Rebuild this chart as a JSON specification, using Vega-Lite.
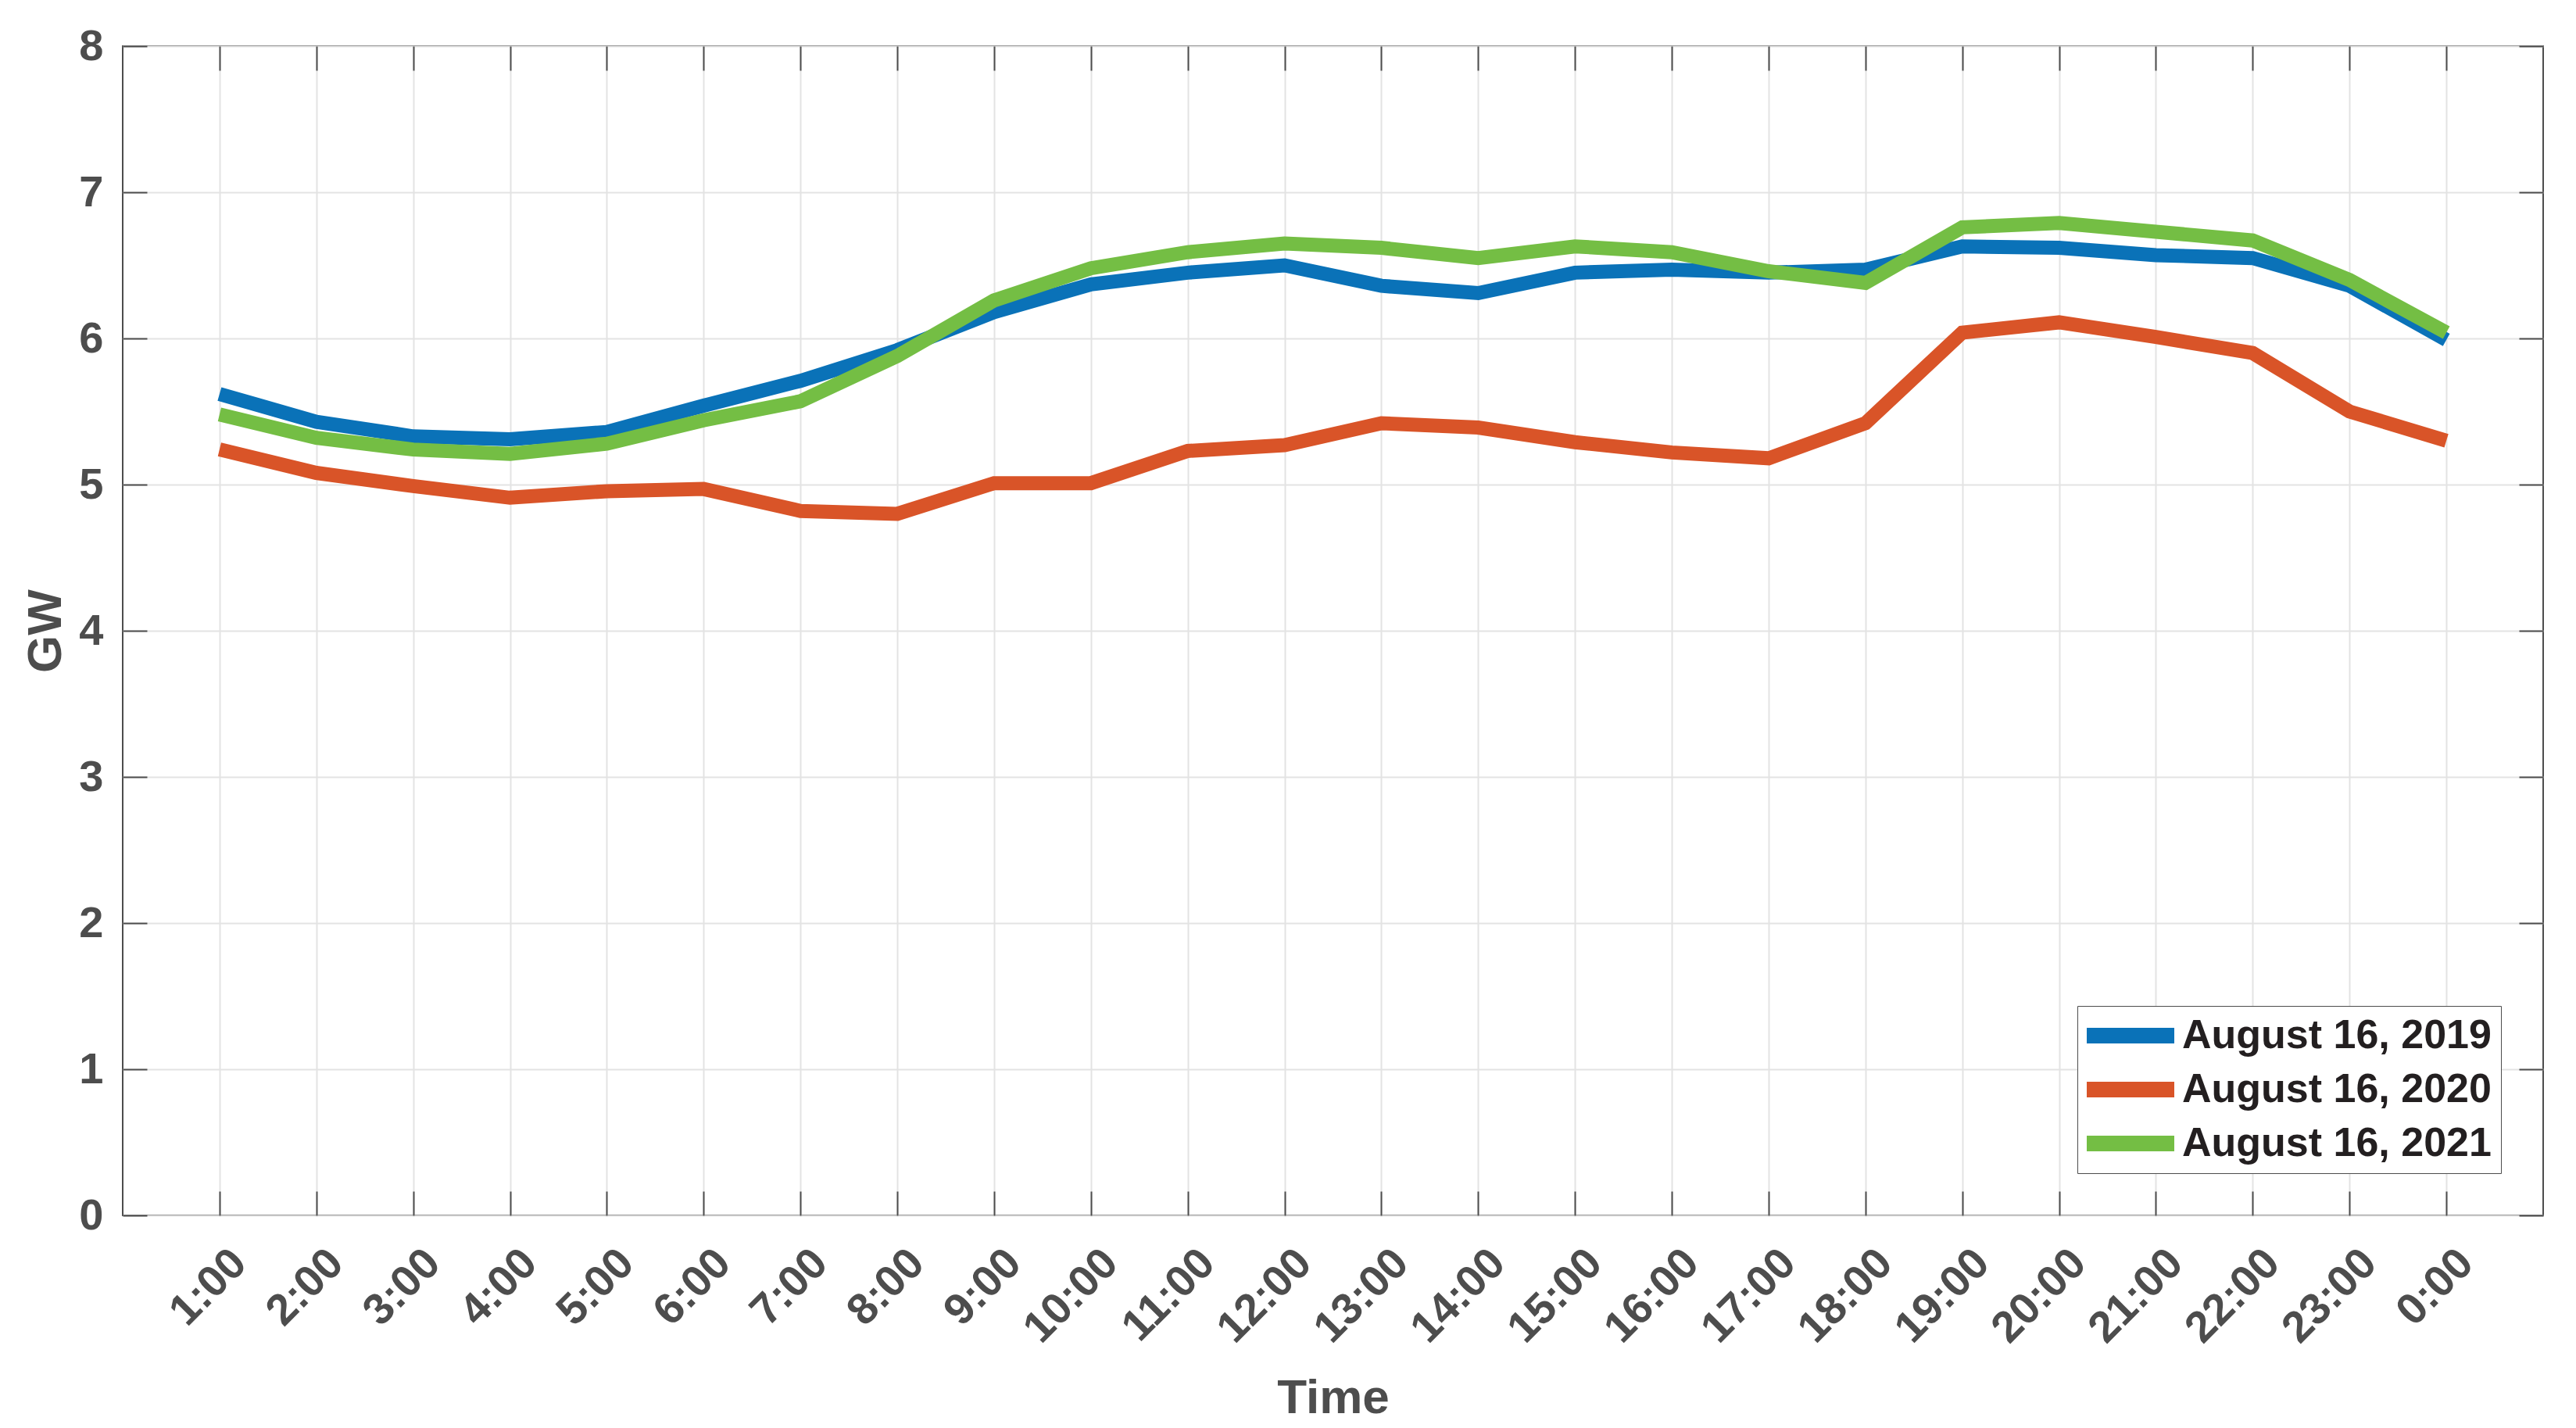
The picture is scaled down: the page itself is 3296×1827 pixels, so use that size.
{
  "$schema": "https://vega.github.io/schema/vega-lite/v6.json",
  "width": 3097,
  "height": 1496,
  "autosize": "none",
  "padding": {"left": 157, "top": 59, "right": 42, "bottom": 272},
  "background": "white",
  "config": {
    "font": "Liberation Sans",
    "view": {"stroke": "#4D4D4D", "strokeWidth": 2}
  },
  "data": {
    "values": [
      {"time": "1:00", "series": "August 16, 2019", "gw": 5.62},
      {"time": "2:00", "series": "August 16, 2019", "gw": 5.43},
      {"time": "3:00", "series": "August 16, 2019", "gw": 5.33},
      {"time": "4:00", "series": "August 16, 2019", "gw": 5.31},
      {"time": "5:00", "series": "August 16, 2019", "gw": 5.36},
      {"time": "6:00", "series": "August 16, 2019", "gw": 5.54},
      {"time": "7:00", "series": "August 16, 2019", "gw": 5.71},
      {"time": "8:00", "series": "August 16, 2019", "gw": 5.92},
      {"time": "9:00", "series": "August 16, 2019", "gw": 6.18},
      {"time": "10:00", "series": "August 16, 2019", "gw": 6.37},
      {"time": "11:00", "series": "August 16, 2019", "gw": 6.45},
      {"time": "12:00", "series": "August 16, 2019", "gw": 6.50},
      {"time": "13:00", "series": "August 16, 2019", "gw": 6.36},
      {"time": "14:00", "series": "August 16, 2019", "gw": 6.31},
      {"time": "15:00", "series": "August 16, 2019", "gw": 6.45},
      {"time": "16:00", "series": "August 16, 2019", "gw": 6.47},
      {"time": "17:00", "series": "August 16, 2019", "gw": 6.45},
      {"time": "18:00", "series": "August 16, 2019", "gw": 6.47},
      {"time": "19:00", "series": "August 16, 2019", "gw": 6.63},
      {"time": "20:00", "series": "August 16, 2019", "gw": 6.62},
      {"time": "21:00", "series": "August 16, 2019", "gw": 6.57},
      {"time": "22:00", "series": "August 16, 2019", "gw": 6.55},
      {"time": "23:00", "series": "August 16, 2019", "gw": 6.36},
      {"time": "0:00", "series": "August 16, 2019", "gw": 5.99},
      {"time": "1:00", "series": "August 16, 2020", "gw": 5.24},
      {"time": "2:00", "series": "August 16, 2020", "gw": 5.08},
      {"time": "3:00", "series": "August 16, 2020", "gw": 4.99},
      {"time": "4:00", "series": "August 16, 2020", "gw": 4.91},
      {"time": "5:00", "series": "August 16, 2020", "gw": 4.955},
      {"time": "6:00", "series": "August 16, 2020", "gw": 4.97},
      {"time": "7:00", "series": "August 16, 2020", "gw": 4.82},
      {"time": "8:00", "series": "August 16, 2020", "gw": 4.80},
      {"time": "9:00", "series": "August 16, 2020", "gw": 5.01},
      {"time": "10:00", "series": "August 16, 2020", "gw": 5.01},
      {"time": "11:00", "series": "August 16, 2020", "gw": 5.23},
      {"time": "12:00", "series": "August 16, 2020", "gw": 5.27},
      {"time": "13:00", "series": "August 16, 2020", "gw": 5.42},
      {"time": "14:00", "series": "August 16, 2020", "gw": 5.39},
      {"time": "15:00", "series": "August 16, 2020", "gw": 5.29},
      {"time": "16:00", "series": "August 16, 2020", "gw": 5.22},
      {"time": "17:00", "series": "August 16, 2020", "gw": 5.18},
      {"time": "18:00", "series": "August 16, 2020", "gw": 5.42},
      {"time": "19:00", "series": "August 16, 2020", "gw": 6.04},
      {"time": "20:00", "series": "August 16, 2020", "gw": 6.11},
      {"time": "21:00", "series": "August 16, 2020", "gw": 6.01},
      {"time": "22:00", "series": "August 16, 2020", "gw": 5.90},
      {"time": "23:00", "series": "August 16, 2020", "gw": 5.50},
      {"time": "0:00", "series": "August 16, 2020", "gw": 5.30},
      {"time": "1:00", "series": "August 16, 2021", "gw": 5.48},
      {"time": "2:00", "series": "August 16, 2021", "gw": 5.32},
      {"time": "3:00", "series": "August 16, 2021", "gw": 5.24},
      {"time": "4:00", "series": "August 16, 2021", "gw": 5.21},
      {"time": "5:00", "series": "August 16, 2021", "gw": 5.28},
      {"time": "6:00", "series": "August 16, 2021", "gw": 5.44},
      {"time": "7:00", "series": "August 16, 2021", "gw": 5.57},
      {"time": "8:00", "series": "August 16, 2021", "gw": 5.88},
      {"time": "9:00", "series": "August 16, 2021", "gw": 6.26},
      {"time": "10:00", "series": "August 16, 2021", "gw": 6.48},
      {"time": "11:00", "series": "August 16, 2021", "gw": 6.59},
      {"time": "12:00", "series": "August 16, 2021", "gw": 6.65},
      {"time": "13:00", "series": "August 16, 2021", "gw": 6.62},
      {"time": "14:00", "series": "August 16, 2021", "gw": 6.55},
      {"time": "15:00", "series": "August 16, 2021", "gw": 6.63},
      {"time": "16:00", "series": "August 16, 2021", "gw": 6.59},
      {"time": "17:00", "series": "August 16, 2021", "gw": 6.46},
      {"time": "18:00", "series": "August 16, 2021", "gw": 6.38},
      {"time": "19:00", "series": "August 16, 2021", "gw": 6.76},
      {"time": "20:00", "series": "August 16, 2021", "gw": 6.79},
      {"time": "21:00", "series": "August 16, 2021", "gw": 6.73},
      {"time": "22:00", "series": "August 16, 2021", "gw": 6.67},
      {"time": "23:00", "series": "August 16, 2021", "gw": 6.40},
      {"time": "0:00", "series": "August 16, 2021", "gw": 6.04}
    ]
  },
  "layer": [
    {
      "mark": {"type": "line", "strokeWidth": 18, "strokeJoin": "miter", "strokeCap": "butt"},
      "encoding": {
        "x": {
          "field": "time", "type": "ordinal",
          "sort": ["1:00","2:00","3:00","4:00","5:00","6:00","7:00","8:00","9:00","10:00","11:00","12:00","13:00","14:00","15:00","16:00","17:00","18:00","19:00","20:00","21:00","22:00","23:00","0:00"],
          "scale": {"type": "point", "padding": 1},
          "axis": {
            "orient": "bottom",
            "title": "Time",
            "titleFont": "Liberation Sans",
            "titleFontSize": 62,
            "titleFontWeight": "bold",
            "titleColor": "#4D4D4D",
            "titleY": 252,
            "titleBaseline": "alphabetic",
            "labelAngle": -45,
            "labelAlign": "right",
            "labelBaseline": "middle",
            "labelFontSize": 56,
            "labelFontWeight": "bold",
            "labelColor": "#4D4D4D",
            "labelPadding": 83,
            "labelOffset": 25,
            "labelOverlap": false,
            "tickSize": -31,
            "tickColor": "#4D4D4D",
            "tickWidth": 2,
            "domain": false,
            "grid": true,
            "gridColor": "#E3E3E3",
            "gridWidth": 2
          }
        },
        "y": {
          "field": "gw", "type": "quantitative",
          "scale": {"domain": [0, 8], "nice": false},
          "axis": {
            "orient": "left",
            "values": [0,1,2,3,4,5,6,7,8],
            "title": "GW",
            "titleFont": "Liberation Sans",
            "titleFontSize": 62,
            "titleFontWeight": "bold",
            "titleColor": "#4D4D4D",
            "titleX": -80,
            "titleBaseline": "alphabetic",
            "labelFontSize": 56,
            "labelFontWeight": "bold",
            "labelColor": "#4D4D4D",
            "labelPadding": 56,
            "tickSize": -31,
            "tickColor": "#4D4D4D",
            "tickWidth": 2,
            "domain": false,
            "grid": true,
            "gridColor": "#E3E3E3",
            "gridWidth": 2
          }
        },
        "color": {
          "field": "series", "type": "nominal",
          "scale": {
            "domain": ["August 16, 2019", "August 16, 2020", "August 16, 2021"],
            "range": ["#0A72B8", "#D95428", "#74BE44"]
          },
          "legend": {
            "title": null,
            "orient": "bottom-right",
            "offset": 54,
            "padding": 12,
            "strokeColor": "#4D4D4D",
            "fillColor": "white",
            "labelFont": "Liberation Sans",
            "labelFontSize": 52,
            "labelFontWeight": "bold",
            "labelColor": "#231F20",
            "labelLimit": 0,
            "labelOffset": 70,
            "symbolType": "M-1,-0.3846H3.3077V0.3846H-1Z",
            "symbolSize": 2704,
            "symbolStrokeWidth": 0,
            "rowPadding": 17,
            "encode": {
              "symbols": {
                "update": {
                  "fill": {"scale": "color", "field": "value"},
                  "fillOpacity": {"value": 1},
                  "strokeWidth": {"value": 0},
                  "strokeOpacity": {"value": 0}
                }
              }
            }
          }
        }
      }
    },
    {
      "mark": {"type": "point", "opacity": 0},
      "encoding": {
        "x": {
          "field": "time", "type": "ordinal",
          "sort": ["1:00","2:00","3:00","4:00","5:00","6:00","7:00","8:00","9:00","10:00","11:00","12:00","13:00","14:00","15:00","16:00","17:00","18:00","19:00","20:00","21:00","22:00","23:00","0:00"],
          "axis": {"orient": "top", "labels": false, "title": null, "grid": false, "domain": false, "tickSize": -31, "tickColor": "#4D4D4D", "tickWidth": 2}
        },
        "y": {
          "field": "gw", "type": "quantitative",
          "axis": {"orient": "right", "values": [0,1,2,3,4,5,6,7,8], "labels": false, "title": null, "grid": false, "domain": false, "tickSize": -31, "tickColor": "#4D4D4D", "tickWidth": 2}
        }
      }
    }
  ]
}
